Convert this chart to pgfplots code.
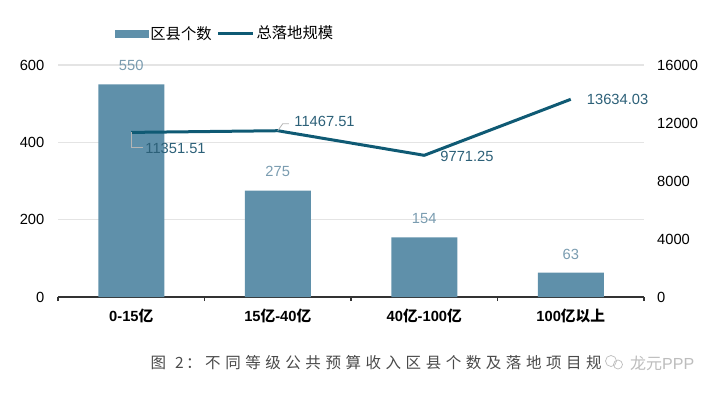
\documentclass[border=0pt]{standalone}
\usepackage{pgfplots}
\usepackage{fontspec}
\pgfplotsset{compat=1.18}
\setmainfont{Liberation Sans}
\newfontfamily\cjk{Noto Sans CJK SC}
\definecolor{barc}{HTML}{5F90AA}
\definecolor{linec}{HTML}{0F5A74}
\definecolor{barlab}{HTML}{7A9CB0}
\definecolor{linelab}{HTML}{2C6078}
\definecolor{gridc}{HTML}{E4E4E4}
\definecolor{axisc}{HTML}{333333}
\definecolor{leader}{HTML}{B5B5B5}
\definecolor{capc}{HTML}{4A4A4A}
\definecolor{wmc}{HTML}{BDBDBD}
\pgfplotstableread{
x count
0 550
1 275
2 154
3 63
}\bardata
\pgfplotstableread{
x scale
0 11351.51
1 11467.51
2 9771.25
3 13634.03
}\linedata
\pgfplotsset{
  base/.style={
    at={(58pt,95pt)}, anchor=south west, scale only axis,
    width=586pt, height=232pt,
    xmin=-0.5, xmax=3.5,
    clip=false,
    scaled ticks=false,
    /pgf/number format/assume math mode=true,
    /pgf/number format/1000 sep={},
    tick label style={font=\fontsize{14.7}{16}\selectfont, text=black},
  }
}
\begin{document}
\begin{tikzpicture}[x=1pt,y=1pt]
\path[use as bounding box] (0,0) rectangle (720,392);
\begin{axis}[base,
  ymin=0, ymax=600, ytick={0,200,400,600},
  axis x line*=bottom, axis y line*=left,
  y axis line style={draw=none},
  x axis line style={draw=axisc, line width=1.6pt},
  xtick={0,1,2,3},
  xticklabels={{\bfseries 0-15{\cjk 亿}},{\bfseries 15{\cjk 亿}-40{\cjk 亿}},{\bfseries 40{\cjk 亿}-100{\cjk 亿}},{\bfseries 100{\cjk 亿以上}}},
  minor xtick={-0.5,0.5,1.5,2.5,3.5},
  major tick length=0pt, minor tick length=4pt,
  tick align=outside,
  every minor tick/.style={draw=axisc, line width=1.2pt},
  ymajorgrids, grid style={draw=gridc, line width=1.2pt},
  yticklabel style={inner sep=0pt, xshift=-13.5pt},
  xticklabel style={inner sep=0pt, yshift=-12pt},
  legend style={draw=none, fill=none, at={(57pt,254.5pt)}, anchor=south west,
    font=\fontsize{15.3}{17}\selectfont\cjk, inner sep=0pt, outer sep=0pt,
    /tikz/every even column/.append style={column sep=3pt}},
  legend columns=2, legend cell align=left,
  axis on top=false,
]
\addplot[ybar, bar width=66pt, fill=barc, draw=none, bar shift=0pt, forget plot] table[x=x,y=count] {\bardata};
\addlegendimage{legend image code/.code={\fill[barc] (0pt,-3.5pt) rectangle (33pt,3.5pt);}}
\addlegendentry{区县个数}
\addlegendimage{legend image code/.code={\draw[linec, line width=3pt] (0pt,0pt) -- (35pt,0pt);}}
\addlegendentry{总落地规模}
\foreach \xx/\yy/\tt/\ys in {0/550/550/14, 1/275/275/14, 2/154/154/14, 3/63/63/13}{
  \edef\temp{\noexpand\node[text=barlab, font=\noexpand\fontsize{14.7}{16}\noexpand\selectfont, anchor=base] at (axis cs:\xx,\yy) [yshift=\ys pt] {\tt};}
  \temp
}
\end{axis}
\begin{axis}[base,
  ymin=0, ymax=16000, ytick={0,4000,8000,12000,16000},
  hide x axis,
  axis y line*=right,
  y axis line style={draw=none},
  major tick length=0pt,
  yticklabel style={inner sep=0pt, anchor=west, xshift=13pt},
]
\addplot[linec, line width=3pt, line join=round] table[x=x,y=scale] {\linedata};
\draw[leader, line width=0.8pt] (axis cs:0,11351.51) -- ++(0pt,-15pt) -- ++(12pt,0pt);
\draw[leader, line width=0.8pt] (axis cs:1,11467.51) -- ++(5pt,7pt) -- ++(6pt,0pt);
\begin{scope}[every node/.style={text=linelab, font=\fontsize{14.7}{16}\selectfont, inner sep=0pt}]
\node[anchor=west] at (axis cs:0,11351.51) [xshift=14pt,yshift=-16pt] {11351.51};
\node[anchor=west] at (axis cs:1,11467.51) [xshift=16.5pt,yshift=9pt] {11467.51};
\node[anchor=west] at (axis cs:2,9771.25) [xshift=16pt,yshift=-1pt] {9771.25};
\node[anchor=west] at (axis cs:3,13634.03) [xshift=16pt,yshift=0pt] {13634.03};
\end{scope}
\end{axis}
% caption
\begin{scope}[every node/.style={text=capc, inner sep=0pt, anchor=base west, font=\fontsize{15.5}{17}\selectfont\cjk}]
\node at (150.5,24) {图};
\node at (175,24) {2};
\node at (186,24) {：};
\foreach \c [count=\i from 0] in {不,同,等,级,公,共,预,算,收,入,区,县,个,数,及,落,地,项,目,规,模}{
  \node at ({205+20.05*\i},24) {\c};
}
\end{scope}
% watermark
\fill[white] (604,18) rectangle (720,44);
\draw[wmc, line width=0.7pt] (611,31) circle (5.5);
\draw[wmc, line width=0.7pt] (618,27.5) circle (4.5);
\node[text=wmc, inner sep=0pt, anchor=base west, font=\fontsize{16}{18}\selectfont] at (630,23) {{\cjk 龙元}PPP};
\end{tikzpicture}
\end{document}
